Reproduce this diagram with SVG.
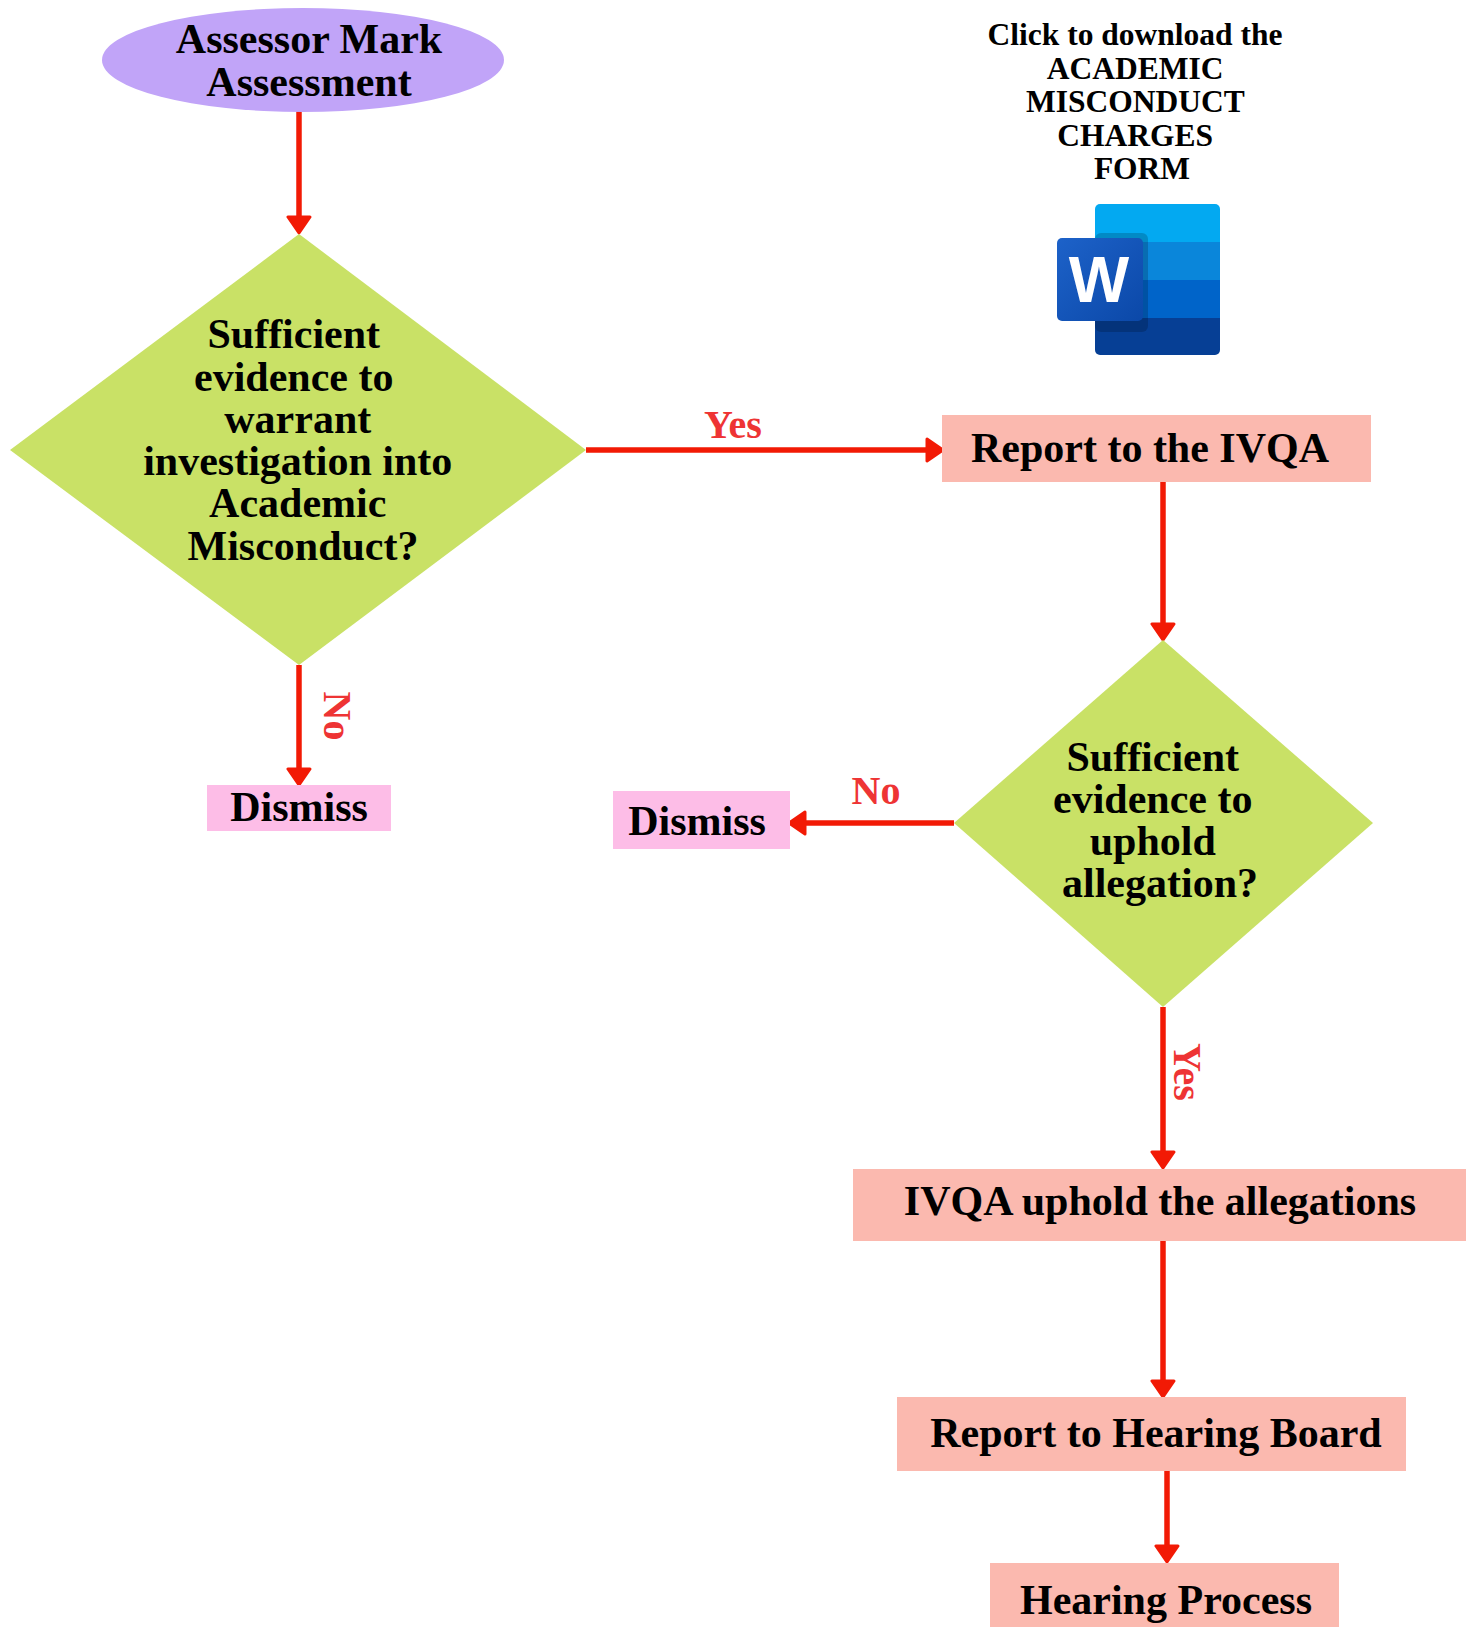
<svg xmlns="http://www.w3.org/2000/svg" width="1474" height="1627" viewBox="0 0 1474 1627">
<style>
.t{font-family:"Liberation Serif","Times New Roman",serif;font-weight:bold;fill:#000;text-anchor:middle}
.lbl{font-family:"Liberation Serif","Times New Roman",serif;font-weight:bold;fill:#ee3434;font-size:40px;text-anchor:middle}
.conn{stroke:#f21a05;stroke-width:5.5;fill:none}
.dia{fill:#c9e166}
.box{fill:#fbb9af}
.dis{fill:#fdbde7}
</style>
<defs>
<marker id="ah" markerUnits="userSpaceOnUse" markerWidth="20" markerHeight="26" viewBox="0 0 20 26" refX="2" refY="13" orient="auto">
<path d="M2,2 L18,13 L2,24 Z" fill="#f21a05" stroke="#f21a05" stroke-width="3" stroke-linejoin="round"/>
</marker>
<clipPath id="docclip"><rect x="1095" y="204" width="125" height="151" rx="5"/></clipPath>
<linearGradient id="wg" x1="0" y1="0" x2="1" y2="1">
<stop offset="0" stop-color="#1d62c9"/>
<stop offset="1" stop-color="#0b48a8"/>
</linearGradient>
</defs>

<g id="connectors">
<line class="conn" x1="299" y1="111" x2="299" y2="217" marker-end="url(#ah)"/>
<line class="conn" x1="586" y1="450" x2="927" y2="450" marker-end="url(#ah)"/>
<line class="conn" x1="299" y1="665" x2="299" y2="769" marker-end="url(#ah)"/>
<line class="conn" x1="1163" y1="482" x2="1163" y2="624" marker-end="url(#ah)"/>
<line class="conn" x1="954" y1="823" x2="805" y2="823" marker-end="url(#ah)"/>
<line class="conn" x1="1163" y1="1007" x2="1163" y2="1152" marker-end="url(#ah)"/>
<line class="conn" x1="1163" y1="1241" x2="1163" y2="1381" marker-end="url(#ah)"/>
<line class="conn" x1="1167" y1="1471" x2="1167" y2="1546" marker-end="url(#ah)"/>
<text class="lbl" x="733" y="438">Yes</text>
<text class="lbl" transform="translate(324,716) rotate(90)">No</text>
<text class="lbl" x="876" y="804">No</text>
<text class="lbl" transform="translate(1174,1072) rotate(90)">Yes</text>
</g>

<g id="start">
<ellipse cx="303" cy="60" rx="201" ry="52" fill="#c1a4f8"/>
<text class="t" font-size="42" x="309" y="53">Assessor Mark</text>
<text class="t" font-size="42" x="309" y="96">Assessment</text>
</g>

<g id="decision1">
<polygon class="dia" points="299,234 586,450 299,665 10,450"/>
<text class="t" font-size="42">
<tspan x="299" y="348">Sufficient</tspan>
<tspan x="299" y="391">evidence to</tspan>
<tspan x="303" y="433">warrant</tspan>
<tspan x="303" y="475">investigation into</tspan>
<tspan x="303" y="517">Academic</tspan>
<tspan x="303" y="560">Misconduct?</tspan>
</text>
</g>

<g id="report-ivqa">
<rect class="box" x="942" y="415" width="429" height="67"/>
<text class="t" font-size="42" x="1150" y="462">Report to the IVQA</text>
</g>

<g id="dismiss1">
<rect class="dis" x="207" y="785" width="184" height="46"/>
<text class="t" font-size="42" x="299" y="821">Dismiss</text>
</g>

<g id="decision2">
<polygon class="dia" points="1163,640 1373,823 1163,1007 954,823"/>
<text class="t" font-size="42">
<tspan x="1158" y="771">Sufficient</tspan>
<tspan x="1158" y="813">evidence to</tspan>
<tspan x="1158" y="855">uphold</tspan>
<tspan x="1160" y="897">allegation?</tspan>
</text>
</g>

<g id="dismiss2">
<rect class="dis" x="613" y="791" width="177" height="58"/>
<text class="t" font-size="42" x="697" y="835">Dismiss</text>
</g>

<g id="ivqa-uphold">
<rect class="box" x="853" y="1169" width="613" height="72"/>
<text class="t" font-size="42" x="1160" y="1215">IVQA uphold the allegations</text>
</g>

<g id="report-board">
<rect class="box" x="897" y="1397" width="509" height="74"/>
<text class="t" font-size="42" x="1156" y="1447">Report to Hearing Board</text>
</g>

<g id="hearing">
<rect class="box" x="990" y="1563" width="349" height="64"/>
<text class="t" font-size="42" x="1166" y="1614">Hearing Process</text>
</g>

<g id="download-form">
<text class="t" font-size="31.5">
<tspan x="1139" y="45">Click to download the</tspan>
<tspan x="1139" y="79">ACADEMIC</tspan>
<tspan x="1139" y="112">MISCONDUCT</tspan>
<tspan x="1139" y="146">CHARGES</tspan>
<tspan x="1142" y="179">FORM</tspan>
</text>
<g clip-path="url(#docclip)">
<rect x="1095" y="204" width="125" height="38" fill="#03a9f1"/>
<rect x="1095" y="242" width="125" height="38" fill="#0a86da"/>
<rect x="1095" y="280" width="125" height="38" fill="#0064c9"/>
<rect x="1095" y="318" width="125" height="37" fill="#063f95"/>
<rect x="1095" y="233" width="53" height="99" rx="6" fill="#000" opacity="0.18"/>
</g>
<rect x="1057" y="238" width="86" height="83" rx="5" fill="url(#wg)"/>
<text x="1099" y="302" font-family="Liberation Sans, Arial, sans-serif" font-weight="bold" font-size="64" fill="#fff" text-anchor="middle">W</text>
</g>
</svg>
